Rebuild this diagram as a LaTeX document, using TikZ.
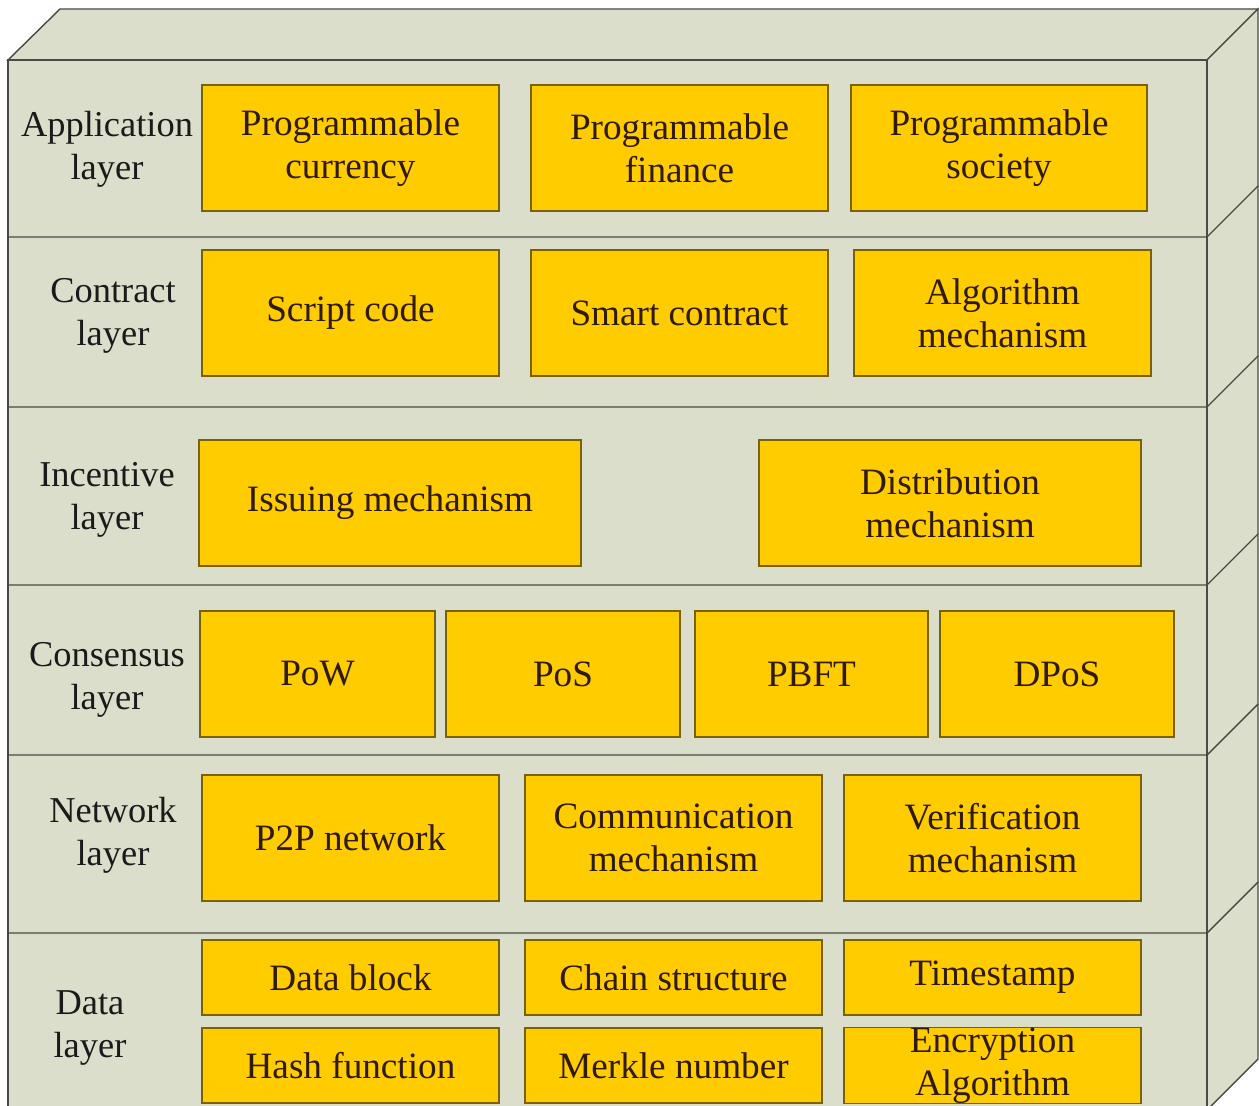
\documentclass[tikz,border=0pt]{standalone}
\usepackage{fontspec}
\setmainfont{Liberation Serif}
\definecolor{facebg}{HTML}{DCDECC}
\definecolor{faceline}{HTML}{4A4A44}
\definecolor{ybg}{HTML}{FFCC00}
\definecolor{yline}{HTML}{7A6200}
\definecolor{ytext}{HTML}{301A00}
\definecolor{ltext}{HTML}{1A1A1A}
\tikzset{
  face/.style={fill=facebg, draw=faceline, line width=0.7pt, line join=miter},
  ybox/.style={rectangle, fill=ybg, draw=yline, line width=0.8pt, inner sep=0pt,
    align=center, text=ytext, font=\fontsize{18.6pt}{21.5pt}\selectfont},
  lyr/.style={align=center, text=ltext, inner sep=0pt, font=\fontsize{18.2pt}{21.5pt}\selectfont},
}
\newcommand{\yb}[6]{%
  \node[ybox, minimum width={(#4-#2)*0.5pt}, minimum height={(#5-#3)*0.5pt}]
    (#1) at ({(#2+#4)/2},{(#3+#5)/2}) {#6};}
\begin{document}
\begin{tikzpicture}[x=0.5pt, y=-0.5pt]
\useasboundingbox (0,0) rectangle (1259,1106);
% 3D box
\draw[face] (8,60) -- (60,9) -- (1258,9) -- (1207,60) -- cycle;
\draw[face] (1207,60) -- (1258,9) -- (1258,1059) -- (1207,1110) -- cycle;
\draw[face] (8,60) rectangle (1207,1110);
\foreach \y in {237,407,585,755,933} {
  \draw[faceline, line width=0.7pt] (8,\y) -- (1207,\y) -- (1258,\y-51);
}
% labels
\node[lyr] (lapp) at (107,149) {Application\\layer};
\node[lyr] (lcon) at (113,316) {Contract\\layer};
\node[lyr] (linc) at (107,500) {Incentive\\layer};
\node[lyr] (lcns) at (107,680) {Consensus\\layer};
\node[lyr] (lnet) at (113,835) {Network\\layer};
\node[lyr] (ldat) at (90,1028) {Data\\layer};
% application
\yb{a1}{202}{85}{499}{211}{Programmable\\currency}
\yb{a2}{531}{85}{828}{211}{Programmable\\finance}
\yb{a3}{851}{85}{1147}{211}{Programmable\\society}
% contract
\yb{c1}{202}{250}{499}{376}{Script code}
\yb{c2}{531}{250}{828}{376}{Smart contract}
\yb{c3}{854}{250}{1151}{376}{Algorithm\\mechanism}
% incentive
\yb{i1}{199}{440}{581}{566}{Issuing mechanism}
\yb{i2}{759}{440}{1141}{566}{Distribution\\mechanism}
% consensus
\yb{s1}{200}{611}{435}{737}{PoW}
\yb{s2}{446}{611}{680}{737}{PoS}
\yb{s3}{695}{611}{928}{737}{PBFT}
\yb{s4}{940}{611}{1174}{737}{DPoS}
% network
\yb{n1}{202}{775}{499}{901}{P2P network}
\yb{n2}{525}{775}{822}{901}{Communication\\mechanism}
\yb{n3}{844}{775}{1141}{901}{Verification\\mechanism}
% data
\yb{d1}{202}{940}{499}{1015}{Data block}
\yb{d2}{525}{940}{822}{1015}{Chain structure}
\yb{d3}{844}{940}{1141}{1015}{Timestamp}
\yb{d4}{202}{1028}{499}{1103}{Hash function}
\yb{d5}{525}{1028}{822}{1103}{Merkle number}
\yb{d6}{844}{1028}{1141}{1103}{Encryption\\Algorithm}
\end{tikzpicture}
\end{document}
